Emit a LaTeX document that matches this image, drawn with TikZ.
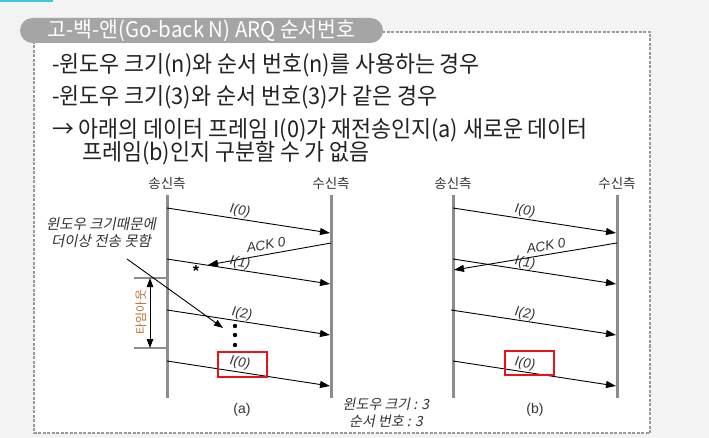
\documentclass[tikz,border=0pt]{standalone}
\usepackage{fontspec}
\usetikzlibrary{arrows.meta}
\newfontfamily\kr{Noto Sans CJK KR}[FakeStretch=0.945]
\newfontfamily\krt{Noto Sans CJK KR}[FakeStretch=0.95]
\newfontfamily\krs{Noto Sans CJK KR}
\newfontfamily\krsl{Noto Sans CJK KR}[FakeSlant=0.2]
\newfontfamily\arl{Liberation Sans}
\definecolor{bg}{HTML}{F3F3F3}
\definecolor{pillc}{HTML}{A5A5A5}
\definecolor{dashc}{HTML}{9A9A9A}
\definecolor{tl}{HTML}{8C8C8C}
\definecolor{txt}{HTML}{222222}
\definecolor{lbl}{HTML}{333333}
\definecolor{timer}{HTML}{B8732F}
\definecolor{cyanbar}{HTML}{3CC8E0}
\definecolor{redbox}{HTML}{E8141B}
\begin{document}
\begin{tikzpicture}[x=1pt,y=-1pt,
  tline/.style={line width=3pt,draw=tl},
  msg/.style={line width=0.9pt,-{Triangle[length=10pt,width=7pt]}},
  mlabel/.style={font=\fontsize{13.5}{13.5}\selectfont\arl\itshape,text=lbl,inner sep=0pt},
  side/.style={font=\fontsize{13.5}{13.5}\selectfont\krs,text=lbl,inner sep=0pt},
  body/.style={font=\fontsize{23}{23}\selectfont\kr,text=txt,anchor=base west,inner sep=0pt},
  note/.style={font=\fontsize{14.5}{17}\selectfont\krsl,text=lbl,inner sep=0pt,align=center},
  sub/.style={font=\fontsize{14}{14}\selectfont\arl,text=lbl,inner sep=0pt},
  rbox/.style={draw=redbox,line width=1.6pt}]
\useasboundingbox (0,0) rectangle (709,438);
\fill[bg] (0,0) rectangle (709,438);
\fill[cyanbar] (0,0) rectangle (53,2);
\filldraw[fill=white,draw=dashc,line width=1.3pt,dash pattern=on 3pt off 1.5pt] (34,32) rectangle (650,433);
\node[fill=pillc,rounded corners=12.5pt,minimum width=363pt,minimum height=25pt,inner sep=0pt,text=white,font=\fontsize{21.5}{21.5}\selectfont\krt] (title) at (201.5,30.5) {고-백-앤(Go-back N) ARQ 순서번호};
% body text
\node[body] (l1) at (52,73) {-윈도우 크기(n)와 순서 번호(n)를 사용하는 경우};
\node[body] (l2) at (52,105) {-윈도우 크기(3)와 순서 번호(3)가 같은 경우};
\node[body] (l3) at (52,138) {→ 아래의 데이터 프레임 I(0)가 재전송인지(a) 새로운 데이터};
\node[body] (l4) at (82,161) {프레임(b)인지 구분할 수 가 없음};
% ---------------- diagram (a)
\coordinate (aST) at (167,195); \coordinate (aSB) at (167,398);
\coordinate (aRT) at (331,195); \coordinate (aRB) at (331,398);
\draw[tline] (aST) -- (aSB);
\draw[tline] (aRT) -- (aRB);
\node[side] (aS) at (167,183) {송신측};
\node[side] (aR) at (331,183) {수신측};
\coordinate (a0s) at (167,208); \coordinate (a0e) at (330,233);
\draw[msg] (a0s) -- (a0e);
\node[mlabel,rotate=-8.5] (a0l) at (240,211) {I(0)};
\coordinate (aAs) at (331,243); \coordinate (aAe) at (208,265);
\draw[msg] (aAs) -- (aAe);
\node[mlabel,rotate=10] (aAl) at (266,245) {ACK 0};
\coordinate (a1s) at (167,259); \coordinate (a1e) at (330,284);
\draw[msg] (a1s) -- (a1e);
\node[mlabel,rotate=-8.5] (a1l) at (240,263) {I(1)};
\node[font=\fontsize{16}{16}\selectfont\arl\bfseries,inner sep=0pt] (star) at (196,271) {*};
\coordinate (a2s) at (167,310); \coordinate (a2e) at (330,335);
\draw[msg] (a2s) -- (a2e);
\node[mlabel,rotate=-8.5] (a2l) at (242,314) {I(2)};
\fill (235,326) circle (2.2pt) (235,335) circle (2.2pt) (235,345) circle (2.2pt);
\coordinate (a3s) at (167,361); \coordinate (a3e) at (330,386);
\draw[msg] (a3s) -- (a3e);
\draw[rbox] (218,352) rectangle (267,377);
\node[mlabel,rotate=-8.5] (a3l) at (240,363) {I(0)};
% timer
\coordinate (tt) at (134,278); \coordinate (tb) at (134,348);
\draw[tl,line width=1.5pt] (tt) -- (167,278);
\draw[tl,line width=1.5pt] (tb) -- (167,348);
\coordinate (tat) at (150,278); \coordinate (tab) at (150,348);
\draw[line width=0.9pt,{Triangle[length=9pt,width=6.5pt]}-{Triangle[length=9pt,width=6.5pt]}] (tat) -- (tab);
\node[font=\fontsize{12}{12}\selectfont\krs,text=timer,rotate=90,inner sep=0pt] (tlab) at (141,312) {타임아웃};
% note
\node[note] (nt) at (101,233) {윈도우 크기때문에\\더이상 전송 못함};
\coordinate (ps) at (127,259); \coordinate (pe) at (223,328);
\draw[line width=0.9pt,-{Triangle[length=9pt,width=6.5pt]}] (ps) -- (pe);
\node[sub] (la) at (242,410) {(a)};
\node[note,font=\fontsize{14}{17}\selectfont\krsl] (win) at (386,413) {윈도우 크기 : 3\\순서 번호 : 3};
% ---------------- diagram (b)
\coordinate (bST) at (453,195); \coordinate (bSB) at (453,398);
\coordinate (bRT) at (617,195); \coordinate (bRB) at (617,398);
\draw[tline] (bST) -- (bSB);
\draw[tline] (bRT) -- (bRB);
\node[side] (bS) at (453,183) {송신측};
\node[side] (bR) at (617,183) {수신측};
\coordinate (b0s) at (453,208); \coordinate (b0e) at (616,233);
\draw[msg] (b0s) -- (b0e);
\node[mlabel,rotate=-8.5] (b0l) at (525,211) {I(0)};
\coordinate (bAs) at (617,243); \coordinate (bAe) at (454,270);
\draw[msg] (bAs) -- (bAe);
\node[mlabel,rotate=10] (bAl) at (546,246) {ACK 0};
\coordinate (b1s) at (453,259); \coordinate (b1e) at (616,284);
\draw[msg] (b1s) -- (b1e);
\node[mlabel,rotate=-8.5] (b1l) at (525,263) {I(1)};
\coordinate (b2s) at (451,310); \coordinate (b2e) at (616,335);
\draw[msg] (b2s) -- (b2e);
\node[mlabel,rotate=-8.5] (b2l) at (525,314) {I(2)};
\coordinate (b3s) at (453,361); \coordinate (b3e) at (616,386);
\draw[msg] (b3s) -- (b3e);
\draw[rbox] (505,351) rectangle (554,375);
\node[mlabel,rotate=-8.5] (b3l) at (525,364) {I(0)};
\node[sub] (lb) at (535,410) {(b)};
\end{tikzpicture}
\end{document}
